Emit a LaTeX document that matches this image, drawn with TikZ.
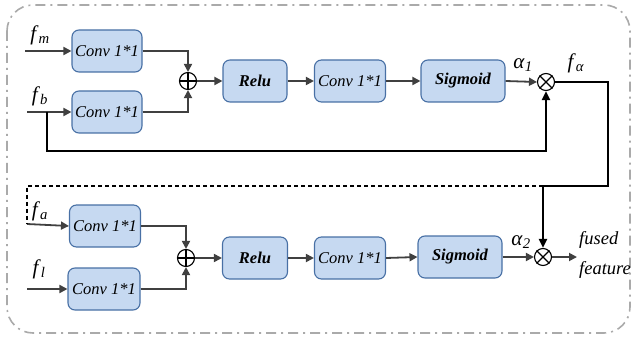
\documentclass[tikz,border=0pt]{standalone}
\usepackage{fontspec}
\setmainfont{Liberation Serif}
\usetikzlibrary{arrows.meta}
\definecolor{boxfill}{RGB}{198,217,241}
\definecolor{boxline}{RGB}{72,112,165}
\definecolor{wire}{RGB}{64,64,64}
\definecolor{frame}{RGB}{170,170,170}
\newcommand{\lbl}[2]{\textit{#1}\textsubscript{\textit{#2}}}
\begin{document}
\begin{tikzpicture}[x=1pt,y=-1pt,
  blk/.style={draw=boxline,fill=boxfill,line width=1.1pt,rounded corners=7pt,
    minimum height=42pt,inner sep=0pt,font=\fontsize{16.5}{19}\selectfont\itshape},
  bblk/.style={blk,font=\fontsize{16.5}{19}\selectfont\bfseries\itshape},
  op/.style={draw=black,line width=1.1pt,circle,minimum size=17pt,inner sep=0pt},
  arr/.style={draw=wire,line width=1.8pt,-{Triangle[length=8pt,width=8pt]}},
  thick/.style={draw=black,line width=2.2pt},
  tarr/.style={thick,-{Triangle[length=9pt,width=8pt]}},
  lab/.style={font=\fontsize{21}{25}\selectfont,inner sep=0pt}]
\useasboundingbox (0,0) rectangle (634,339);
% outer frame
\draw[frame,line width=1.6pt,rounded corners=26pt,
  dash pattern=on 10pt off 5pt on 2pt off 5pt] (7,5) rectangle (630,333);

% upper branch
\node[blk,minimum width=70pt] (c1) at (107,51) {Conv 1*1};
\node[blk,minimum width=70pt] (c2) at (107,112) {Conv 1*1};
\node[op] (p1) at (188,81) {};
\draw[line width=1.1pt] (p1.north) -- (p1.south) (p1.west) -- (p1.east);
\node[bblk,minimum width=64pt] (r1) at (255,81) {Relu};
\node[blk,minimum width=71pt] (k1) at (350,81) {Conv 1*1};
\node[bblk,minimum width=84pt] (s1) at (463,81) {Sigmoid};
\node[op] (m1) at (546,82) {};
\draw[line width=1.1pt] (m1.north west) -- (m1.south east) (m1.north east) -- (m1.south west);

\coordinate (fm) at (25,51);
\coordinate (fb) at (27,112);
\coordinate (fbk) at (47,112);
\draw[arr] (fm) -- (c1.west);
\draw[arr] (fb) -- (c2.west);
\draw[arr] (c1.east) -| (p1.north);
\draw[arr] (c2.east) -| (p1.south);
\draw[arr] (p1.east) -- (r1.west);
\draw[arr] (r1.east) -- (k1.west);
\draw[arr] (k1.east) -- (s1.west);
\draw[arr] (s1.east) -- (m1.west);
\draw[tarr] (fbk) |- (546,151) -- (m1.south);

\node[lab] at (40,35) {\lbl{f}{m}};
\node[lab] at (40,96) {\lbl{f}{b}};
\node[lab] at (523,65) {\lbl{α}{1}};
\node[lab] at (576,63) {\lbl{f}{α}};

% lower branch
\node[blk,minimum width=71pt] (c3) at (105,226) {Conv 1*1};
\node[blk,minimum width=72pt] (c4) at (104,289) {Conv 1*1};
\node[op] (p2) at (186,258) {};
\draw[line width=1.1pt] (p2.north) -- (p2.south) (p2.west) -- (p2.east);
\node[bblk,minimum width=65pt] (r2) at (255,258) {Relu};
\node[blk,minimum width=71pt] (k2) at (350,258) {Conv 1*1};
\node[bblk,minimum width=84pt] (s2) at (460,257) {Sigmoid};
\node[op] (m2) at (543,257) {};
\draw[line width=1.1pt] (m2.north west) -- (m2.south east) (m2.north east) -- (m2.south west);

\coordinate (fl) at (27,289);
\coordinate (turn) at (543,186);
\coordinate (fa) at (27,224);
\coordinate (out) at (577,257);
\draw[arr] (fa) -- (c3.west);
\draw[arr] (fl) -- (c4.west);
\draw[arr] (c3.east) -| (p2.north);
\draw[arr] (c4.east) -| (p2.south);
\draw[arr] (p2.east) -- (r2.west);
\draw[arr] (r2.east) -- (k2.west);
\draw[arr] (k2.east) -- (s2.west);
\draw[arr] (s2.east) -- (m2.west);
\draw[arr] (m2.east) -- (out);

% feedback of f_alpha
\draw[tarr] (m1.east) -| (608,186) -- (turn) -- (m2.north);
\draw[black,line width=1.2pt,dash pattern=on 4pt off 3pt] (turn) -- (27,186) -- (fa);

\node[lab] at (40,211) {\lbl{f}{a}};
\node[lab] at (39,269) {\lbl{f}{l}};
\node[lab] at (521,242) {\lbl{α}{2}};
\node[lab,anchor=west,font=\fontsize{18.5}{22}\selectfont] at (579,240) {\textit{fused}};
\node[lab,anchor=west,font=\fontsize{18.5}{22}\selectfont] at (579,270) {\textit{feature}};
\end{tikzpicture}
\end{document}
